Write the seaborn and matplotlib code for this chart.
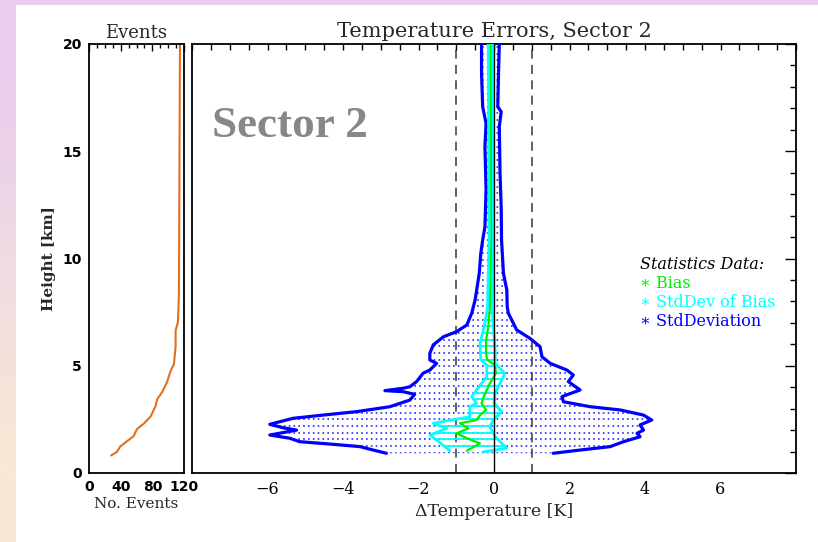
import numpy as np
import pandas as pd
import matplotlib
matplotlib.use("Agg")
import matplotlib.pyplot as plt
from matplotlib.patches import Polygon, Rectangle
from matplotlib.ticker import MultipleLocator
import seaborn as sns

# ---- number of events per height ----
events_km = [0.82, 0.98, 1.23, 1.48, 1.72, 2.05, 2.30, 2.62, 3.11, 3.44, 3.77,
             4.26, 4.75, 5.08, 5.90, 6.64, 7.05, 8.36, 20.0]
events_n = [28.0, 35.2, 39.4, 47.9, 56.4, 60.6, 69.1, 77.6, 84.0, 86.1, 92.4,
            98.8, 103.0, 107.3, 109.4, 109.4, 112.4, 113.6, 114.9]

# ---- standard deviation envelope (bias -/+ std), K ----
std_left_km = [20.0, 18.63, 17.08, 16.30, 15.21, 13.19, 11.48, 10.86, 10.24, 9.31,
               8.07, 7.45, 6.90, 6.59, 6.35, 5.97, 5.58, 5.27, 5.11, 4.80, 4.65,
               4.26, 4.02, 3.95, 3.84, 3.79, 3.67, 3.40, 3.09, 2.86, 2.70, 2.55,
               2.27, 2.11, 2.00, 1.77, 1.62, 1.46, 1.35, 1.23, 1.07, 0.92]
std_left_k = [-0.33, -0.33, -0.30, -0.21, -0.24, -0.21, -0.24, -0.30, -0.35, -0.39,
              -0.50, -0.59, -0.72, -0.99, -1.34, -1.61, -1.70, -1.70, -1.52, -1.70, -1.88,
              -2.05, -2.23, -2.41, -2.89, -2.41, -2.10, -2.23, -2.76, -3.64, -4.53, -5.32,
              -5.94, -5.59, -5.23, -5.94, -5.41, -5.15, -4.35, -3.55, -3.20, -2.85]
std_right_km = [20.0, 18.63, 17.08, 16.84, 16.14, 13.97, 12.41, 10.86, 9.31, 8.53,
                7.75, 7.45, 6.67, 6.28, 5.89, 5.42, 5.11, 4.80, 4.57, 4.26, 3.87,
                3.56, 3.32, 3.09, 2.94, 2.70, 2.47, 2.24, 2.00, 1.85, 1.69, 1.46,
                1.23, 1.07, 0.92]
std_right_k = [0.14, 0.12, 0.10, 0.19, 0.14, 0.16, 0.19, 0.20, 0.25, 0.34,
               0.35, 0.38, 0.60, 0.95, 1.22, 1.27, 1.49, 1.93, 2.10, 1.97, 2.28,
               1.80, 1.84, 2.55, 3.34, 3.96, 4.18, 3.87, 3.96, 3.79, 3.87, 3.43,
               3.08, 2.28, 1.57]

# ---- standard deviation of the bias (bias -/+ std of bias), K ----
sdb_left_km = [20.0, 10.86, 7.75, 6.98, 6.05, 5.27, 5.03, 4.49, 3.87, 3.56, 3.25,
               3.09, 2.62, 2.32, 2.08, 1.77, 1.54, 1.04]
sdb_left_k = [-0.15, -0.13, -0.17, -0.24, -0.37, -0.35, -0.19, -0.19, -0.46, -0.59, -0.46,
              -0.64, -0.64, -1.61, -1.25, -1.70, -1.52, -1.17]
sdb_right_km = [20.0, 10.86, 7.75, 6.98, 5.73, 5.11, 4.65, 4.18, 3.72, 3.25, 2.86,
                2.47, 2.16, 1.69, 1.15, 0.99]
sdb_right_k = [-0.03, -0.01, -0.05, -0.02, 0.03, 0.03, 0.29, 0.16, 0.03, 0.00, 0.20,
               -0.02, -0.11, 0.03, 0.34, -0.28]

# ---- bias, K ----
bias_km = [20.0, 10.86, 7.75, 6.82, 6.20, 5.58, 5.27, 5.03, 4.65, 4.18, 3.87, 3.56,
           3.25, 2.94, 2.70, 2.47, 2.32, 2.08, 1.85, 1.62, 1.38, 1.20, 1.04]
bias_k = [-0.09, -0.07, -0.11, -0.15, -0.21, -0.21, -0.18, 0.03, 0.05, -0.11, -0.19, -0.27,
          -0.33, -0.21, -0.37, -0.46, -0.90, -0.68, -0.99, -0.72, -0.37, -0.55, -0.72]

legend_items = [("Bias", "#00ee00"), ("StdDev of Bias", "#00ffff"), ("StdDeviation", "#0000ff")]

sns.set_style("white")
plt.rcParams["font.family"] = ["DejaVu Serif", "DejaVu Sans"]
plt.rcParams["axes.linewidth"] = 1.3
plt.rcParams["axes.edgecolor"] = "black"

W, H = 818, 542
fig = plt.figure(figsize=(W / 100, H / 100), dpi=100)
fig.patch.set_facecolor("white")

# page background: gradient strip on the left, tinted band along the top
bg = fig.add_axes([0, 0, 1, 1], zorder=-10)
grad = np.array([[[233, 205, 236]], [[240, 220, 226]], [[248, 232, 212]]]) / 255.0
bg.imshow(grad, extent=(0, 16, H, 0), aspect="auto", interpolation="bilinear")
bg.add_patch(Rectangle((0, 0), W, 4.5, color=(233 / 255, 205 / 255, 236 / 255), lw=0))
bg.set_xlim(0, W)
bg.set_ylim(H, 0)
bg.axis("off")

ax_ev = fig.add_axes([89 / W, 69 / H, 95 / W, 429 / H])
ax = fig.add_axes([192 / W, 69 / H, 604 / W, 429 / H])

# ---------------- events panel ----------------
ev = pd.DataFrame({"n": events_n, "km": events_km})
sns.lineplot(data=ev, x="n", y="km", sort=False, estimator=None,
             color="#e0701e", lw=1.5, ax=ax_ev)
ax_ev.set_xlim(0, 120)
ax_ev.set_ylim(0, 20)
ax_ev.set_xticks([0, 40, 80, 120])
ax_ev.xaxis.set_minor_locator(MultipleLocator(10))
ax_ev.set_yticks([0, 5, 10, 15, 20])
ax_ev.yaxis.set_minor_locator(MultipleLocator(1))
ax_ev.tick_params(axis="both", which="both", direction="in", top=True, right=False,
                  colors="black", width=1)
ax_ev.tick_params(axis="y", which="major", length=8, pad=5)
ax_ev.tick_params(axis="y", which="minor", length=4)
ax_ev.tick_params(axis="x", which="major", length=5, pad=5)
ax_ev.tick_params(axis="x", which="minor", length=3)
for lbl in ax_ev.get_xticklabels() + ax_ev.get_yticklabels():
    lbl.set_fontfamily("DejaVu Sans")
    lbl.set_fontweight("bold")
    lbl.set_fontsize(10)
ax_ev.set_title("Events", fontsize=13, pad=4)
ax_ev.set_xlabel("No. Events", fontsize=11, labelpad=2)
ax_ev.set_ylabel("Height [km]", fontsize=11, fontweight="bold", labelpad=5)

# ---------------- temperature errors panel ----------------
ax.set_xlim(-8, 8)
ax.set_ylim(0, 20)

row_levels = np.arange(0.95, 20.0, 0.31)

std_poly = Polygon(np.column_stack([std_left_k + std_right_k[::-1],
                                    std_left_km + std_right_km[::-1]]),
                   closed=True, facecolor="none", edgecolor="none")
ax.add_patch(std_poly)
dots = ax.hlines(row_levels, -8, 8, colors="#2a2aff", linewidth=1.2,
                 linestyles=[(0, (1, 1.9))], zorder=1)
dots.set_clip_path(std_poly)

sdb_poly = Polygon(np.column_stack([sdb_left_k + sdb_right_k[::-1],
                                    sdb_left_km + sdb_right_km[::-1]]),
                   closed=True, facecolor="none", edgecolor="none")
ax.add_patch(sdb_poly)
cy_rows = ax.hlines(row_levels, -8, 8, colors="#00ffff", linewidth=1.3, zorder=2)
cy_rows.set_clip_path(sdb_poly)

ax.axvline(-1, color="#555555", lw=1.3, dashes=(5, 3.5), zorder=0)
ax.axvline(1, color="#555555", lw=1.3, dashes=(5, 3.5), zorder=0)

for xs, ys in [(std_left_k, std_left_km), (std_right_k, std_right_km)]:
    sns.lineplot(x=xs, y=ys, sort=False, estimator=None, color="#0000ff",
                 lw=2.3, ax=ax, zorder=3)
sns.lineplot(x=bias_k, y=bias_km, sort=False, estimator=None, color="#00ee00",
             lw=1.6, ax=ax, zorder=3.5)
for xs, ys in [(sdb_left_k, sdb_left_km), (sdb_right_k, sdb_right_km)]:
    sns.lineplot(x=xs, y=ys, sort=False, estimator=None, color="#00ffff",
                 lw=2.0, ax=ax, zorder=4)
ax.axvline(0, color="black", lw=1.0, zorder=6)

ax.set_xticks([-6, -4, -2, 0, 2, 4, 6])
ax.xaxis.set_minor_locator(MultipleLocator(0.5))
ax.set_yticks([0, 5, 10, 15, 20])
ax.yaxis.set_minor_locator(MultipleLocator(1))
ax.tick_params(axis="both", which="both", direction="in", top=True, right=True,
               colors="black", width=1)
ax.tick_params(axis="x", which="both", length=4.5, pad=6, labelsize=11.5)
ax.tick_params(axis="y", which="major", length=8, labelleft=False)
ax.tick_params(axis="y", which="minor", length=4)
ax.set_xlabel("ΔTemperature [K]", fontsize=12.5, labelpad=3)
ax.set_ylabel("")
ax.set_title("Temperature Errors, Sector 2", fontsize=15, pad=5)

ax.text(0.033, 0.783, "Sector 2", transform=ax.transAxes, fontsize=32.5,
        fontweight="bold", family="Liberation Serif", color="#878787",
        va="baseline", ha="left")

ax.text(0.742, 0.485, "Statistics Data:", transform=ax.transAxes, fontsize=11.5,
        style="italic", color="black", va="center", ha="left")
for i, (name, col) in enumerate(legend_items):
    ax.text(0.742, 0.441 - i * 0.0435, "∗ " + name, transform=ax.transAxes,
            fontsize=11.5, color=col, va="center", ha="left",
            family=["DejaVu Serif", "DejaVu Sans"])

for a in (ax, ax_ev):
    for s in a.spines.values():
        s.set_color("black")
        s.set_linewidth(1.3)

fig.savefig("out.png", dpi=100)
